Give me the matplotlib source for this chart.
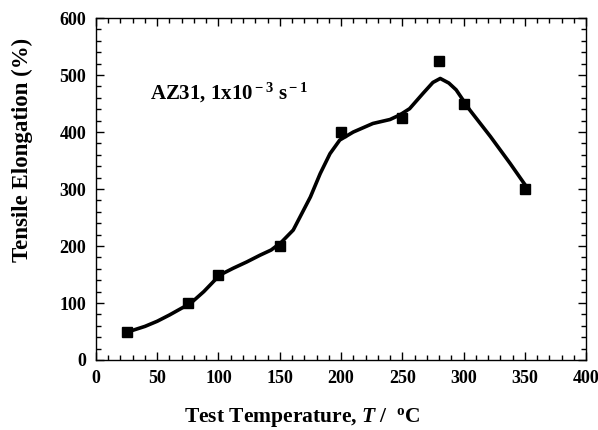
import matplotlib
matplotlib.use("Agg")
import matplotlib.pyplot as plt
from matplotlib.ticker import MultipleLocator

plt.rcParams['font.family'] = 'Liberation Serif'
plt.rcParams['font.weight'] = 'bold'
plt.rcParams['axes.labelweight'] = 'bold'
plt.rcParams['mathtext.fontset'] = 'custom'
plt.rcParams['mathtext.rm'] = 'Liberation Serif:bold'
plt.rcParams['mathtext.it'] = 'Liberation Serif:italic:bold'
plt.rcParams['mathtext.bf'] = 'Liberation Serif:bold'

# measured points
temp = [25, 75, 100, 150, 200, 250, 280, 300, 350]
elong = [50, 100, 150, 200, 400, 425, 525, 450, 300]

# fitted curve
curve_t = [27, 40, 50, 60, 70, 77, 88, 101, 112, 123, 134, 143, 151, 161, 168,
           175, 183, 191, 199, 210, 226, 240, 248, 256, 267, 275, 281, 288, 294,
           305, 322, 338, 352]
curve_e = [50, 59, 68, 79, 91, 99, 120, 149, 161, 172, 184, 193, 206, 228, 257,
           286, 327, 362, 386, 400, 415, 422, 430, 441, 468, 487, 494, 486, 474,
           439, 392, 345, 302]

fig = plt.figure(figsize=(5.98, 4.30), dpi=100)
ax = fig.add_axes([0.1605, 0.1628, 0.8195, 0.7952])

ax.plot(curve_t, curve_e, color='black', linewidth=2.6,
        solid_capstyle='round', solid_joinstyle='round')
ax.plot(temp, elong, 's', color='black', markersize=7)

ax.set_xlim(0, 400)
ax.set_ylim(0, 600)
ax.xaxis.set_major_locator(MultipleLocator(50))
ax.xaxis.set_minor_locator(MultipleLocator(10))
ax.yaxis.set_major_locator(MultipleLocator(100))
ax.yaxis.set_minor_locator(MultipleLocator(20))
ax.tick_params(which='both', direction='in', top=True, right=True, labelsize=13, width=1)
ax.tick_params(which='major', length=6, pad=7)
ax.tick_params(which='minor', length=3.5)
for s in ax.spines.values():
    s.set_linewidth(1.0)

ax.set_xlabel(r"Test Temperature, $\mathit{T}$ /  $^{\rm o}$C", fontsize=15.5)
ax.set_ylabel("Tensile Elongation (%)", fontsize=16.5)
ax.xaxis.set_label_coords(0.42, -0.168)
ax.yaxis.set_label_coords(-0.151, 0.614)
ax.xaxis.label.set_va('center')
ax.yaxis.label.set_va('center')

ax.text(44, 468, r"AZ31, 1x10$^{\rm -3}$ s$^{\rm -1}$", fontsize=15, va='center', ha='left')

fig.savefig("out.png", dpi=100)
